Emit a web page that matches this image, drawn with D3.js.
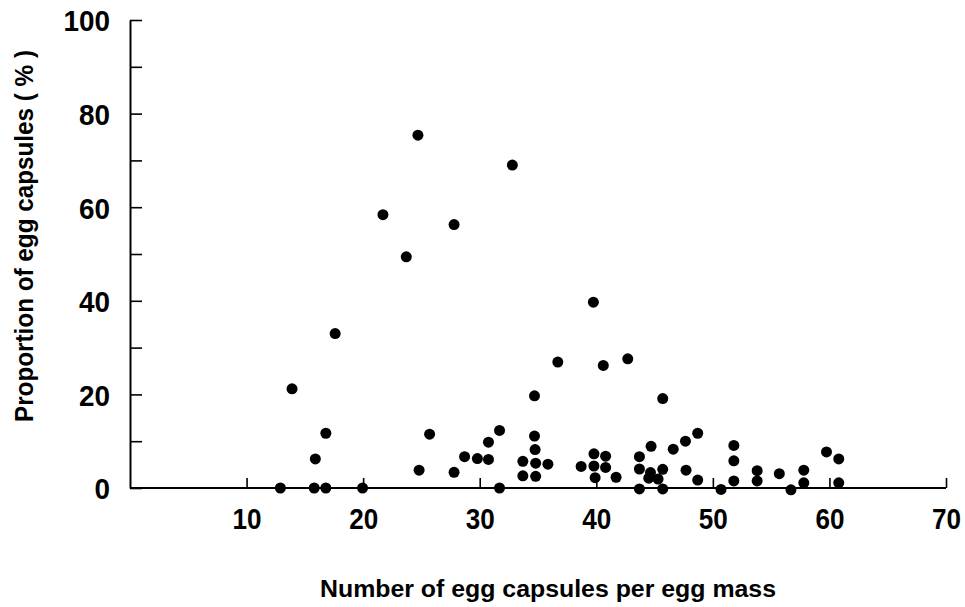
<!DOCTYPE html>
<html>
<head>
<meta charset="utf-8">
<script src="https://cdn.jsdelivr.net/npm/d3@7"></script>
<style>
  html, body { margin: 0; padding: 0; background: #fff; }
  svg { display: block; }
  .tick text { font-family: "Liberation Sans", Arial, sans-serif; font-weight: bold; fill: #000; }
</style>
</head>
<body>
<svg id="chart" width="965" height="607"></svg>
<script>
// Data
const capsulesPerMass = [12.9, 13.9, 15.8, 15.9, 16.8, 16.8, 17.6, 19.95, 21.7, 23.7, 24.7, 24.8, 25.7, 27.8, 27.8, 28.7, 29.8, 30.75, 30.75, 31.7, 31.7, 32.8, 33.7, 33.7, 34.7, 34.7, 34.75, 34.8, 34.8, 35.85, 36.7, 38.7, 39.75, 39.8, 39.8, 39.9, 40.6, 40.8, 40.8, 41.7, 42.7, 43.7, 43.7, 43.7, 44.7, 44.65, 44.5, 45.3, 45.7, 45.7, 45.7, 46.6, 47.65, 47.7, 48.7, 48.7, 50.7, 51.8, 51.8, 51.8, 53.8, 53.8, 55.7, 56.7, 57.8, 57.8, 59.75, 60.8, 60.8];
const proportionPct = [0, 21.2, 0, 6.2, 11.7, 0, 33, 0, 58.4, 49.4, 75.4, 3.8, 11.5, 56.3, 3.35, 6.7, 6.3, 6.1, 9.8, 12.3, 0, 69.0, 5.7, 2.6, 19.7, 11.1, 8.2, 5.3, 2.5, 5.1, 26.9, 4.6, 39.7, 7.3, 4.7, 2.2, 26.2, 6.8, 4.4, 2.3, 27.6, 6.7, 4.06, -0.2, 8.9, 3.3, 2.1, 1.9, 4.0, 19.1, -0.2, 8.3, 10.0, 3.8, 11.7, 1.7, -0.3, 9.1, 5.8, 1.5, 3.7, 1.5, 3.06, -0.4, 3.8, 1.1, 7.7, 6.2, 1.1];
const xTicks = [10, 20, 30, 40, 50, 60, 70];
const yTicks = [0, 10, 20, 30, 40, 50, 60, 70, 80, 90, 100];
const yLabelled = [0, 20, 40, 60, 80, 100];
const xTitle = "Number  of  egg  capsules  per  egg  mass";
const yTitle = "Proportion  of  egg  capsules ( % )";

const svg = d3.select("#chart");
const x = d3.scaleLinear().domain([0, 70]).range([130, 946]);
const y = d3.scaleLinear().domain([0, 100]).range([488, 20]);

// X axis
const gx = svg.append("g").attr("transform", `translate(0,${y(0)})`)
  .call(d3.axisBottom(x).tickValues(xTicks).tickSizeInner(-10).tickSizeOuter(0).tickPadding(20).tickFormat(d3.format("d")));
gx.select(".domain").attr("d", `M${x(0)},0H${x(70)}`).attr("stroke", "#000").attr("stroke-width", 2);
gx.selectAll(".tick line").attr("stroke", "#000").attr("stroke-width", 1.6);
gx.selectAll(".tick text").style("font-size", "30px")
  .attr("textLength", function() { return this.textContent.length * 14.5; })
  .attr("lengthAdjust", "spacingAndGlyphs");

// Y axis
const gy = svg.append("g").attr("transform", `translate(${x(0)},0)`)
  .call(d3.axisLeft(y).tickValues(yTicks).tickSizeInner(-12).tickSizeOuter(0).tickPadding(20)
    .tickFormat(d => yLabelled.includes(d) ? d : ""));
gy.select(".domain").attr("stroke", "#000").attr("stroke-width", 2);
gy.selectAll(".tick line").attr("stroke", "#000").attr("stroke-width", 1.6);
gy.selectAll(".tick text").style("font-size", "30px").attr("dy", "0.36em")
  .filter(function() { return this.textContent.length > 0; })
  .attr("textLength", function() { return this.textContent.length * 15.5; })
  .attr("lengthAdjust", "spacingAndGlyphs");

// Points
svg.append("g").selectAll("circle")
  .data(capsulesPerMass.map((v, i) => [v, proportionPct[i]]))
  .join("circle")
  .attr("cx", d => x(d[0]))
  .attr("cy", d => y(d[1]))
  .attr("r", 5.5)
  .attr("fill", "#000");

// Titles
svg.append("text")
  .attr("x", 548).attr("y", 597)
  .attr("text-anchor", "middle")
  .attr("textLength", 456).attr("lengthAdjust", "spacingAndGlyphs")
  .style("font-family", "Liberation Sans, Arial, sans-serif")
  .style("font-weight", "bold").style("font-size", "23px")
  .text(xTitle);

svg.append("text")
  .attr("transform", "translate(33,236) rotate(-90)")
  .attr("text-anchor", "middle")
  .attr("textLength", 372).attr("lengthAdjust", "spacingAndGlyphs")
  .style("font-family", "Liberation Sans, Arial, sans-serif")
  .style("font-weight", "bold").style("font-size", "25px")
  .text(yTitle);
</script>
</body>
</html>
